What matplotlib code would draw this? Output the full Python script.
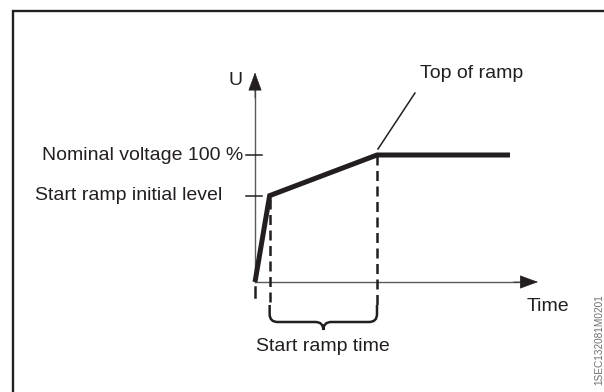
import numpy as np
import matplotlib.pyplot as plt
from matplotlib.path import Path
from matplotlib.patches import PathPatch

plt.rcParams['font.family'] = ['Liberation Sans', 'DejaVu Sans']

# soft start voltage profile (time in ramp units, U in per unit of nominal)
t_ramp = [0.0, 0.12, 1.0, 2.09]
u_ramp = [0.0, 0.68, 1.0, 1.0]
u_nominal = 1.0
u_initial = 0.68
t_initial = 0.12
t_top = 1.0

t_axis_end = 2.32
u_axis_end = 1.65

label_nominal = "Nominal voltage 100 %"
label_initial = "Start ramp initial level"
label_top = "Top of ramp"
label_time = "Time"
label_u = "U"
label_ramp_time = "Start ramp time"
drawing_id = "1SEC132081M0201"

ink = '#231f20'
axis_grey = '#58595b'

fig = plt.figure(figsize=(6.04, 3.92), dpi=100)
ax = fig.add_axes([0, 0, 1, 1])
ax.axis('off')
ax.set_xlim(-255 / 122, (604 - 255) / 122)
ax.set_ylim(-(392 - 282) / 127, 282 / 127)

# frame (only top and left edges fall inside the picture)
ax.plot([13 / 604, 13 / 604, 1.01], [-0.01, 1 - 11 / 392, 1 - 11 / 392],
        transform=ax.transAxes, color=ink, lw=1.7, clip_on=False,
        solid_capstyle='projecting', solid_joinstyle='miter')

# axes: grey shafts, black heads
ax.plot([0, t_axis_end - 0.05], [0, 0], color=axis_grey, lw=1.0)
ax.plot([0, 0], [0, u_axis_end - 0.05], color=axis_grey, lw=1.0)
head = dict(arrowstyle='-|>,head_length=0.6,head_width=0.22', mutation_scale=20,
            color=ink, lw=0.5, shrinkA=0, shrinkB=0)
ax.annotate('', xy=(t_axis_end, 0), xytext=(t_axis_end - 0.2, 0), arrowprops=head)
ax.annotate('', xy=(0, u_axis_end), xytext=(0, u_axis_end - 0.2), arrowprops=head)

# level ticks on the U axis
for lvl in (u_nominal, u_initial):
    ax.plot([-0.074, 0.057], [lvl, lvl], color=ink, lw=1.1)

# dashed guides down to the brace
brace_top = -0.181
dash = dict(color=ink, lw=1.8, dashes=(4.0, 2.2))
ax.plot([t_initial, t_initial], [u_initial - 0.03, brace_top], **dash)
ax.plot([t_top, t_top], [u_nominal, brace_top], **dash)
ax.plot([0, 0], [-0.04, -0.12], color=ink, lw=1.8)

# voltage ramp
ax.plot(t_ramp, u_ramp, color=ink, lw=3.6, solid_joinstyle='miter',
        solid_capstyle='butt')

# brace under the ramp time
L, R = t_initial, t_top
C = (L + R) / 2
mid, tip = -0.315, -0.378
rh, rv = 8 / 122, 8 / 127
verts = [(L, brace_top), (L, mid + rv), (L, mid), (L + rh, mid),
         (C - rh, mid), (C, mid), (C, tip), (C, mid), (C + rh, mid),
         (R - rh, mid), (R, mid), (R, mid + rv), (R, brace_top)]
codes = [Path.MOVETO, Path.LINETO, Path.CURVE3, Path.CURVE3,
         Path.LINETO, Path.CURVE3, Path.CURVE3, Path.CURVE3, Path.CURVE3,
         Path.LINETO, Path.CURVE3, Path.CURVE3, Path.LINETO]
ax.add_patch(PathPatch(Path(verts, codes), fill=False, ec=ink, lw=1.8))

# leader to the top of ramp
ax.plot([1.008, 1.311], [1.047, 1.488], color=ink, lw=1.1)

fs = 14
ax.text(-0.098, u_nominal, label_nominal, ha='right', va='center', fontsize=fs, color=ink)
ax.text(-0.27, u_initial, label_initial, ha='right', va='center', fontsize=fs, color=ink)
ax.text(1.779, 1.638, label_top, ha='center', va='center', fontsize=fs, color=ink)
ax.text(2.40, -0.189, label_time, ha='center', va='center', fontsize=fs, color=ink)
ax.text(-0.156, 1.59, label_u, ha='center', va='center', fontsize=fs, color=ink)
ax.text(C, -0.504, label_ramp_time, ha='center', va='center', fontsize=fs, color=ink)
ax.text(599 / 604, 0.135, drawing_id, transform=ax.transAxes, rotation=90,
        ha='center', va='center', fontsize=7.2, color='#6d6e71')

fig.savefig('out.png', dpi=100)
